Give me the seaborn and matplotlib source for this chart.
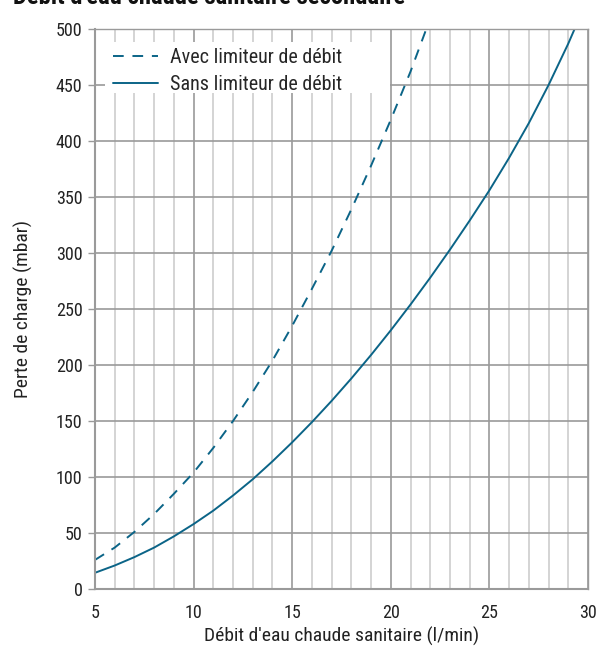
import numpy as np
import pandas as pd
import seaborn as sns
import matplotlib
matplotlib.use("Agg")
import matplotlib.pyplot as plt
from matplotlib import font_manager
from matplotlib.patches import Rectangle
from matplotlib.ticker import MultipleLocator

# Flow rate (l/min) and pressure drop (mbar) for each configuration
debit_avec = [5, 6, 7, 8, 9, 10, 11, 12, 13, 14, 15, 16, 17, 18, 19, 20, 21, 21.8]
perte_avec = [26, 37, 51, 67, 85, 104, 126, 150, 176, 204, 235, 268, 302, 339, 378, 419, 462, 500]

debit_sans = [5, 6, 7, 8, 9, 10, 11, 12, 13, 14, 15, 16, 17, 18, 19, 20, 21, 22, 23, 24,
              25, 26, 27, 28, 29, 29.32]
perte_sans = [14.5, 21, 28.5, 37, 47, 58, 70, 83.5, 98, 114, 131, 149, 168, 188, 209, 231,
              254, 278, 303, 329, 356, 385, 416, 450, 487, 500]

serie_avec = "Avec limiteur de débit"
serie_sans = "Sans limiteur de débit"

titre = "Débit d'eau chaude sanitaire secondaire"
label_x = "Débit d'eau chaude sanitaire (l/min)"
label_y = "Perte de charge (mbar)"

df = pd.concat([
    pd.DataFrame({"debit": debit_avec, "perte": perte_avec, "serie": serie_avec}),
    pd.DataFrame({"debit": debit_sans, "perte": perte_sans, "serie": serie_sans}),
], ignore_index=True)

sns.set_style("white")

installed = {f.name for f in font_manager.fontManager.ttflist}
if "Roboto Condensed" in installed:
    plt.rcParams["font.family"] = ["Roboto Condensed", "DejaVu Sans"]
    fs_tick, fs_label, fs_leg, fs_title = 13, 14, 14.5, 17.7
else:
    plt.rcParams["font.family"] = ["Roboto", "DejaVu Sans"]
    fs_tick, fs_label, fs_leg, fs_title = 11.5, 12.4, 12.8, 15.5

couleur = "#0b6487"
gris = "#9a9a9a"
gris_clair = "#cdcdcd"
texte = "#222222"

fig = plt.figure(figsize=(6.08, 6.48), dpi=100)
ax = fig.add_axes([0.1562, 0.0910, 0.9671 - 0.1562, 0.9552 - 0.0910])

sns.lineplot(
    data=df, x="debit", y="perte", style="serie",
    style_order=[serie_avec, serie_sans],
    dashes={serie_avec: (5.5, 4.5), serie_sans: ""},
    color=couleur, linewidth=1.4, ax=ax, sort=True, estimator=None,
)

ax.set_xlim(5, 30)
ax.set_ylim(0, 500)
ax.xaxis.set_major_locator(MultipleLocator(5))
ax.xaxis.set_minor_locator(MultipleLocator(1))
ax.yaxis.set_major_locator(MultipleLocator(50))

ax.grid(which="minor", axis="x", color=gris_clair, linewidth=1.2, zorder=0)
ax.grid(which="major", axis="x", color=gris, linewidth=1.2, zorder=0)
ax.grid(which="major", axis="y", color=gris, linewidth=1.2, zorder=0)
ax.set_axisbelow(True)

for side, spine in ax.spines.items():
    spine.set_color(gris)
    spine.set_linewidth(1.5 if side in ("left", "bottom") else 1.0)

ax.tick_params(axis="y", which="major", left=True, length=5, width=1.0, color=gris,
               labelsize=fs_tick, labelcolor=texte, pad=4)
ax.tick_params(axis="x", which="both", bottom=False, labelsize=fs_tick,
               labelcolor=texte, pad=7)

ax.set_xlabel(label_x, fontsize=fs_label, color=texte, labelpad=4)
ax.set_ylabel(label_y, fontsize=fs_label, color=texte, labelpad=16)

# White panel behind the legend, hiding the grid there
ax.add_patch(Rectangle((0.0203, 0.886), 0.578, 0.091, transform=ax.transAxes,
                       facecolor="white", edgecolor="none", zorder=1))

leg = ax.legend(loc="upper left", title=None, frameon=False, fontsize=fs_leg,
                handlelength=2.25, handletextpad=0.6, borderpad=0.0,
                labelspacing=0.38, bbox_to_anchor=(0.0365, 0.966),
                borderaxespad=0.0)

fig.text(0.021, 1 - 4 / 648, titre, fontsize=fs_title, fontweight="bold",
         color="#111111", va="baseline", ha="left")

fig.savefig("out.png", dpi=100)
